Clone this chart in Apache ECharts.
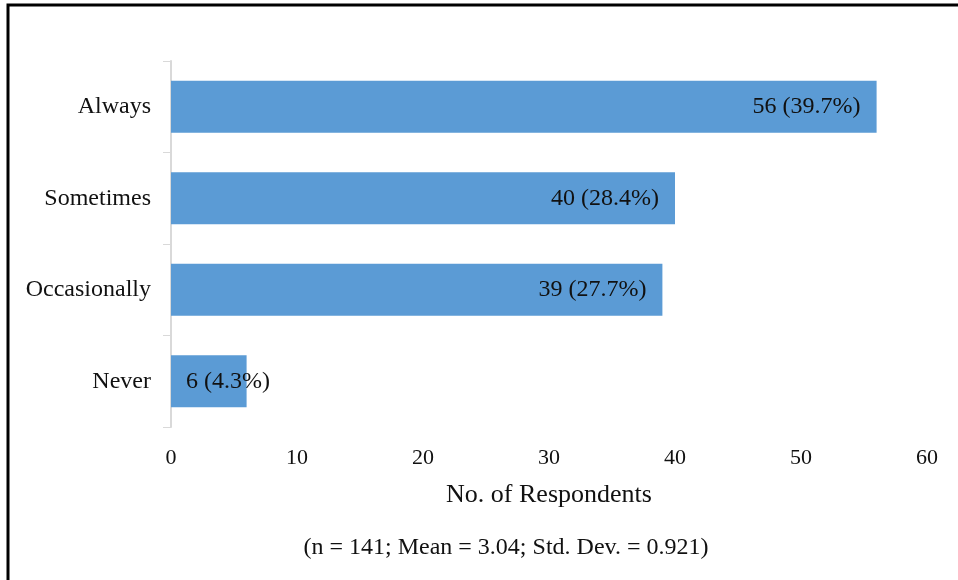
<!DOCTYPE html>
<html>
<head>
<meta charset="utf-8">
<script src="https://cdn.jsdelivr.net/npm/echarts@6/dist/echarts.min.js"></script>
<style>
  html, body { margin: 0; padding: 0; background: #fff; }
  #chart { width: 958px; height: 580px; }
</style>
</head>
<body>
<div id="chart"></div>
<script>
// Response categories, top to bottom
const categories = ['Always', 'Sometimes', 'Occasionally', 'Never'];
// Number of respondents per category
const counts = [56, 40, 39, 6];
// Survey summary
const totalN = 141;
const meanScore = '3.04';
const stdDev = '0.921';
// Horizontal axis ticks
const xMin = 0, xMax = 60, xStep = 10;

const serif = 'Liberation Serif';
const chart = echarts.init(document.getElementById('chart'));

const barData = counts.map((v) => {
  const item = { value: v };
  // the smallest bar is too narrow for an end-aligned label
  if (v < 10) {
    item.label = { position: 'insideLeft', distance: 15 };
  }
  return item;
});

chart.setOption({
  animation: false,
  backgroundColor: '#ffffff',
  grid: { left: 171, right: 31, top: 61, bottom: 153, containLabel: false },
  xAxis: {
    type: 'value',
    min: xMin, max: xMax, interval: xStep,
    name: 'No. of Respondents',
    nameLocation: 'middle',
    nameGap: 55,
    nameTextStyle: { fontFamily: serif, fontSize: 26, color: '#111' },
    axisLine: { show: false },
    axisTick: { show: false },
    splitLine: { show: false },
    axisLabel: { fontFamily: serif, fontSize: 22, color: '#111', margin: 20 }
  },
  yAxis: {
    type: 'category',
    data: categories,
    inverse: true,
    axisLine: { show: true, lineStyle: { color: '#d9d9d9', width: 2 } },
    axisTick: { show: true, length: 8, lineStyle: { color: '#d9d9d9', width: 1 } },
    axisLabel: { fontFamily: serif, fontSize: 24, color: '#111', margin: 20 }
  },
  series: [{
    type: 'bar',
    data: barData,
    barCategoryGap: '43%',
    itemStyle: { color: '#5b9bd5' },
    label: {
      show: true,
      position: 'insideRight',
      distance: 16,
      fontFamily: serif,
      fontSize: 24,
      color: '#111',
      formatter: p => p.value + ' (' + (p.value / totalN * 100).toFixed(1) + '%)'
    }
  }],
  graphic: [
    {
      type: 'text',
      x: 506,
      y: 548,
      style: {
        text: '(n = ' + totalN + '; Mean = ' + meanScore + '; Std. Dev. = ' + stdDev + ')',
        fontFamily: serif,
        fontSize: 24,
        fill: '#111',
        align: 'center',
        verticalAlign: 'middle'
      }
    },
    {
      type: 'polyline',
      shape: { points: [[8, 580], [8, 5], [958, 5]] },
      style: { stroke: '#000', lineWidth: 3, fill: null }
    }
  ]
});
</script>
</body>
</html>
